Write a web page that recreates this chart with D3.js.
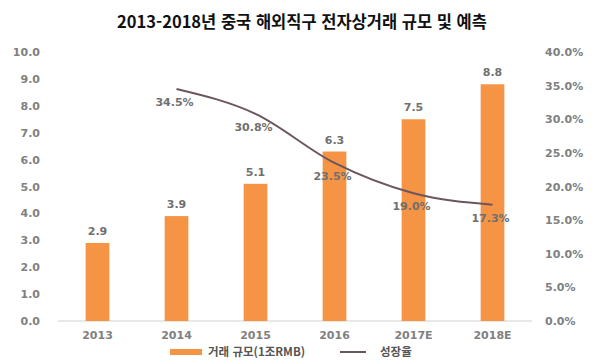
<!DOCTYPE html>
<html lang="ko">
<head>
<meta charset="utf-8">
<title>2013-2018 중국 해외직구 전자상거래 규모 및 예측</title>
<script src="https://d3js.org/d3.v7.min.js"></script>
<style>
  body { margin: 0; background: #fff; }
  text { font-family: "DejaVu Sans", "Noto Sans CJK KR", sans-serif; }
</style>
</head>
<body>
<div id="chart"></div>
<script>
var years = ["2013", "2014", "2015", "2016", "2017E", "2018E"];
var scale = [2.9, 3.9, 5.1, 6.3, 7.5, 8.8];
var growthYears = ["2014", "2015", "2016", "2017E", "2018E"];
var growth = [34.5, 30.8, 23.5, 19.0, 17.3];
var leftTicks = [0, 1, 2, 3, 4, 5, 6, 7, 8, 9, 10];
var rightTicks = [0, 5, 10, 15, 20, 25, 30, 35, 40];

var width = 600, height = 364;
var margin = { top: 52, right: 68, bottom: 43, left: 58 };

var svg = d3.select("#chart").append("svg")
  .attr("width", width)
  .attr("height", height);

svg.append("text")
  .attr("x", 302).attr("y", 28)
  .attr("text-anchor", "middle")
  .style("font-family", "'Noto Sans CJK KR', sans-serif")
  .style("font-size", "16.5px")
  .style("font-weight", "bold")
  .attr("fill", "#111")
  .text("2013-2018년 중국 해외직구 전자상거래 규모 및 예측");

var x = d3.scaleBand()
  .domain(years)
  .range([margin.left, width - margin.right])
  .paddingInner(0.7)
  .paddingOuter(0.35);

var y = d3.scaleLinear()
  .domain([0, 10])
  .range([height - margin.bottom, margin.top]);

var y2 = d3.scaleLinear()
  .domain([0, 40])
  .range([height - margin.bottom, margin.top]);

// left axis
var yAxis = d3.axisLeft(y).tickValues(leftTicks).tickSize(0).tickPadding(0)
  .tickFormat(d3.format(".1f"));
svg.append("g")
  .attr("transform", "translate(40,0)")
  .call(yAxis)
  .call(g => g.select(".domain").remove())
  .selectAll("text")
  .style("font-size", "11px").style("font-weight", "bold").attr("fill", "#808080");

// right axis
var y2Axis = d3.axisRight(y2).tickValues(rightTicks).tickSize(0).tickPadding(0)
  .tickFormat(d => d3.format(".1f")(d) + "%");
svg.append("g")
  .attr("transform", "translate(545,0)")
  .call(y2Axis)
  .call(g => g.select(".domain").remove())
  .selectAll("text")
  .style("font-size", "11px").style("font-weight", "bold").attr("fill", "#808080");

// baseline + x axis
svg.append("line")
  .attr("x1", margin.left).attr("x2", width - margin.right)
  .attr("y1", y(0)).attr("y2", y(0))
  .attr("stroke", "#d0d0d0").attr("stroke-width", 1);

var xAxis = d3.axisBottom(x).tickSize(0).tickPadding(10);
svg.append("g")
  .attr("transform", `translate(0,${y(0)})`)
  .call(xAxis)
  .call(g => g.select(".domain").remove())
  .selectAll("text")
  .style("font-size", "11px").style("font-weight", "bold").attr("fill", "#808080");

// bars
svg.selectAll("rect.bar")
  .data(scale)
  .enter().append("rect")
  .attr("class", "bar")
  .attr("x", (d, i) => x(years[i]))
  .attr("y", d => y(d))
  .attr("width", x.bandwidth())
  .attr("height", d => y(0) - y(d))
  .attr("fill", "#f59444");

svg.selectAll("text.val")
  .data(scale)
  .enter().append("text")
  .attr("class", "val")
  .attr("x", (d, i) => x(years[i]) + x.bandwidth() / 2)
  .attr("y", d => y(d) - 8)
  .attr("text-anchor", "middle")
  .style("font-size", "11px").style("font-weight", "bold")
  .attr("fill", "#707070")
  .text(d => d3.format(".1f")(d));

// growth line
var cx = d => x(d) + x.bandwidth() / 2;
var line = d3.line()
  .x((d, i) => cx(growthYears[i]))
  .y(d => y2(d))
  .curve(d3.curveMonotoneX);

svg.append("path")
  .datum(growth)
  .attr("d", line)
  .attr("fill", "none")
  .attr("stroke", "#6b5660")
  .attr("stroke-width", 2);

svg.selectAll("text.pct")
  .data(growth)
  .enter().append("text")
  .attr("class", "pct")
  .attr("x", (d, i) => cx(growthYears[i]) - 2)
  .attr("y", d => y2(d) + 17)
  .attr("text-anchor", "middle")
  .style("font-size", "11px").style("font-weight", "bold")
  .attr("fill", "#707070")
  .text(d => d3.format(".1f")(d) + "%");

// legend
var lg = svg.append("g").attr("transform", "translate(0,352)");
lg.append("rect")
  .attr("x", 170).attr("y", -3).attr("width", 32).attr("height", 6)
  .attr("fill", "#f59444");
lg.append("text")
  .attr("x", 208).attr("y", 4)
  .style("font-family", "'Noto Sans CJK KR', sans-serif")
  .style("font-size", "11.5px").style("font-weight", "bold")
  .attr("fill", "#555")
  .text("거래 규모(1조RMB)");
lg.append("line")
  .attr("x1", 340).attr("x2", 366).attr("y1", 0).attr("y2", 0)
  .attr("stroke", "#6b5660").attr("stroke-width", 2);
lg.append("text")
  .attr("x", 380).attr("y", 4)
  .style("font-family", "'Noto Sans CJK KR', sans-serif")
  .style("font-size", "11.5px").style("font-weight", "bold")
  .attr("fill", "#555")
  .text("성장율");
</script>
</body>
</html>
